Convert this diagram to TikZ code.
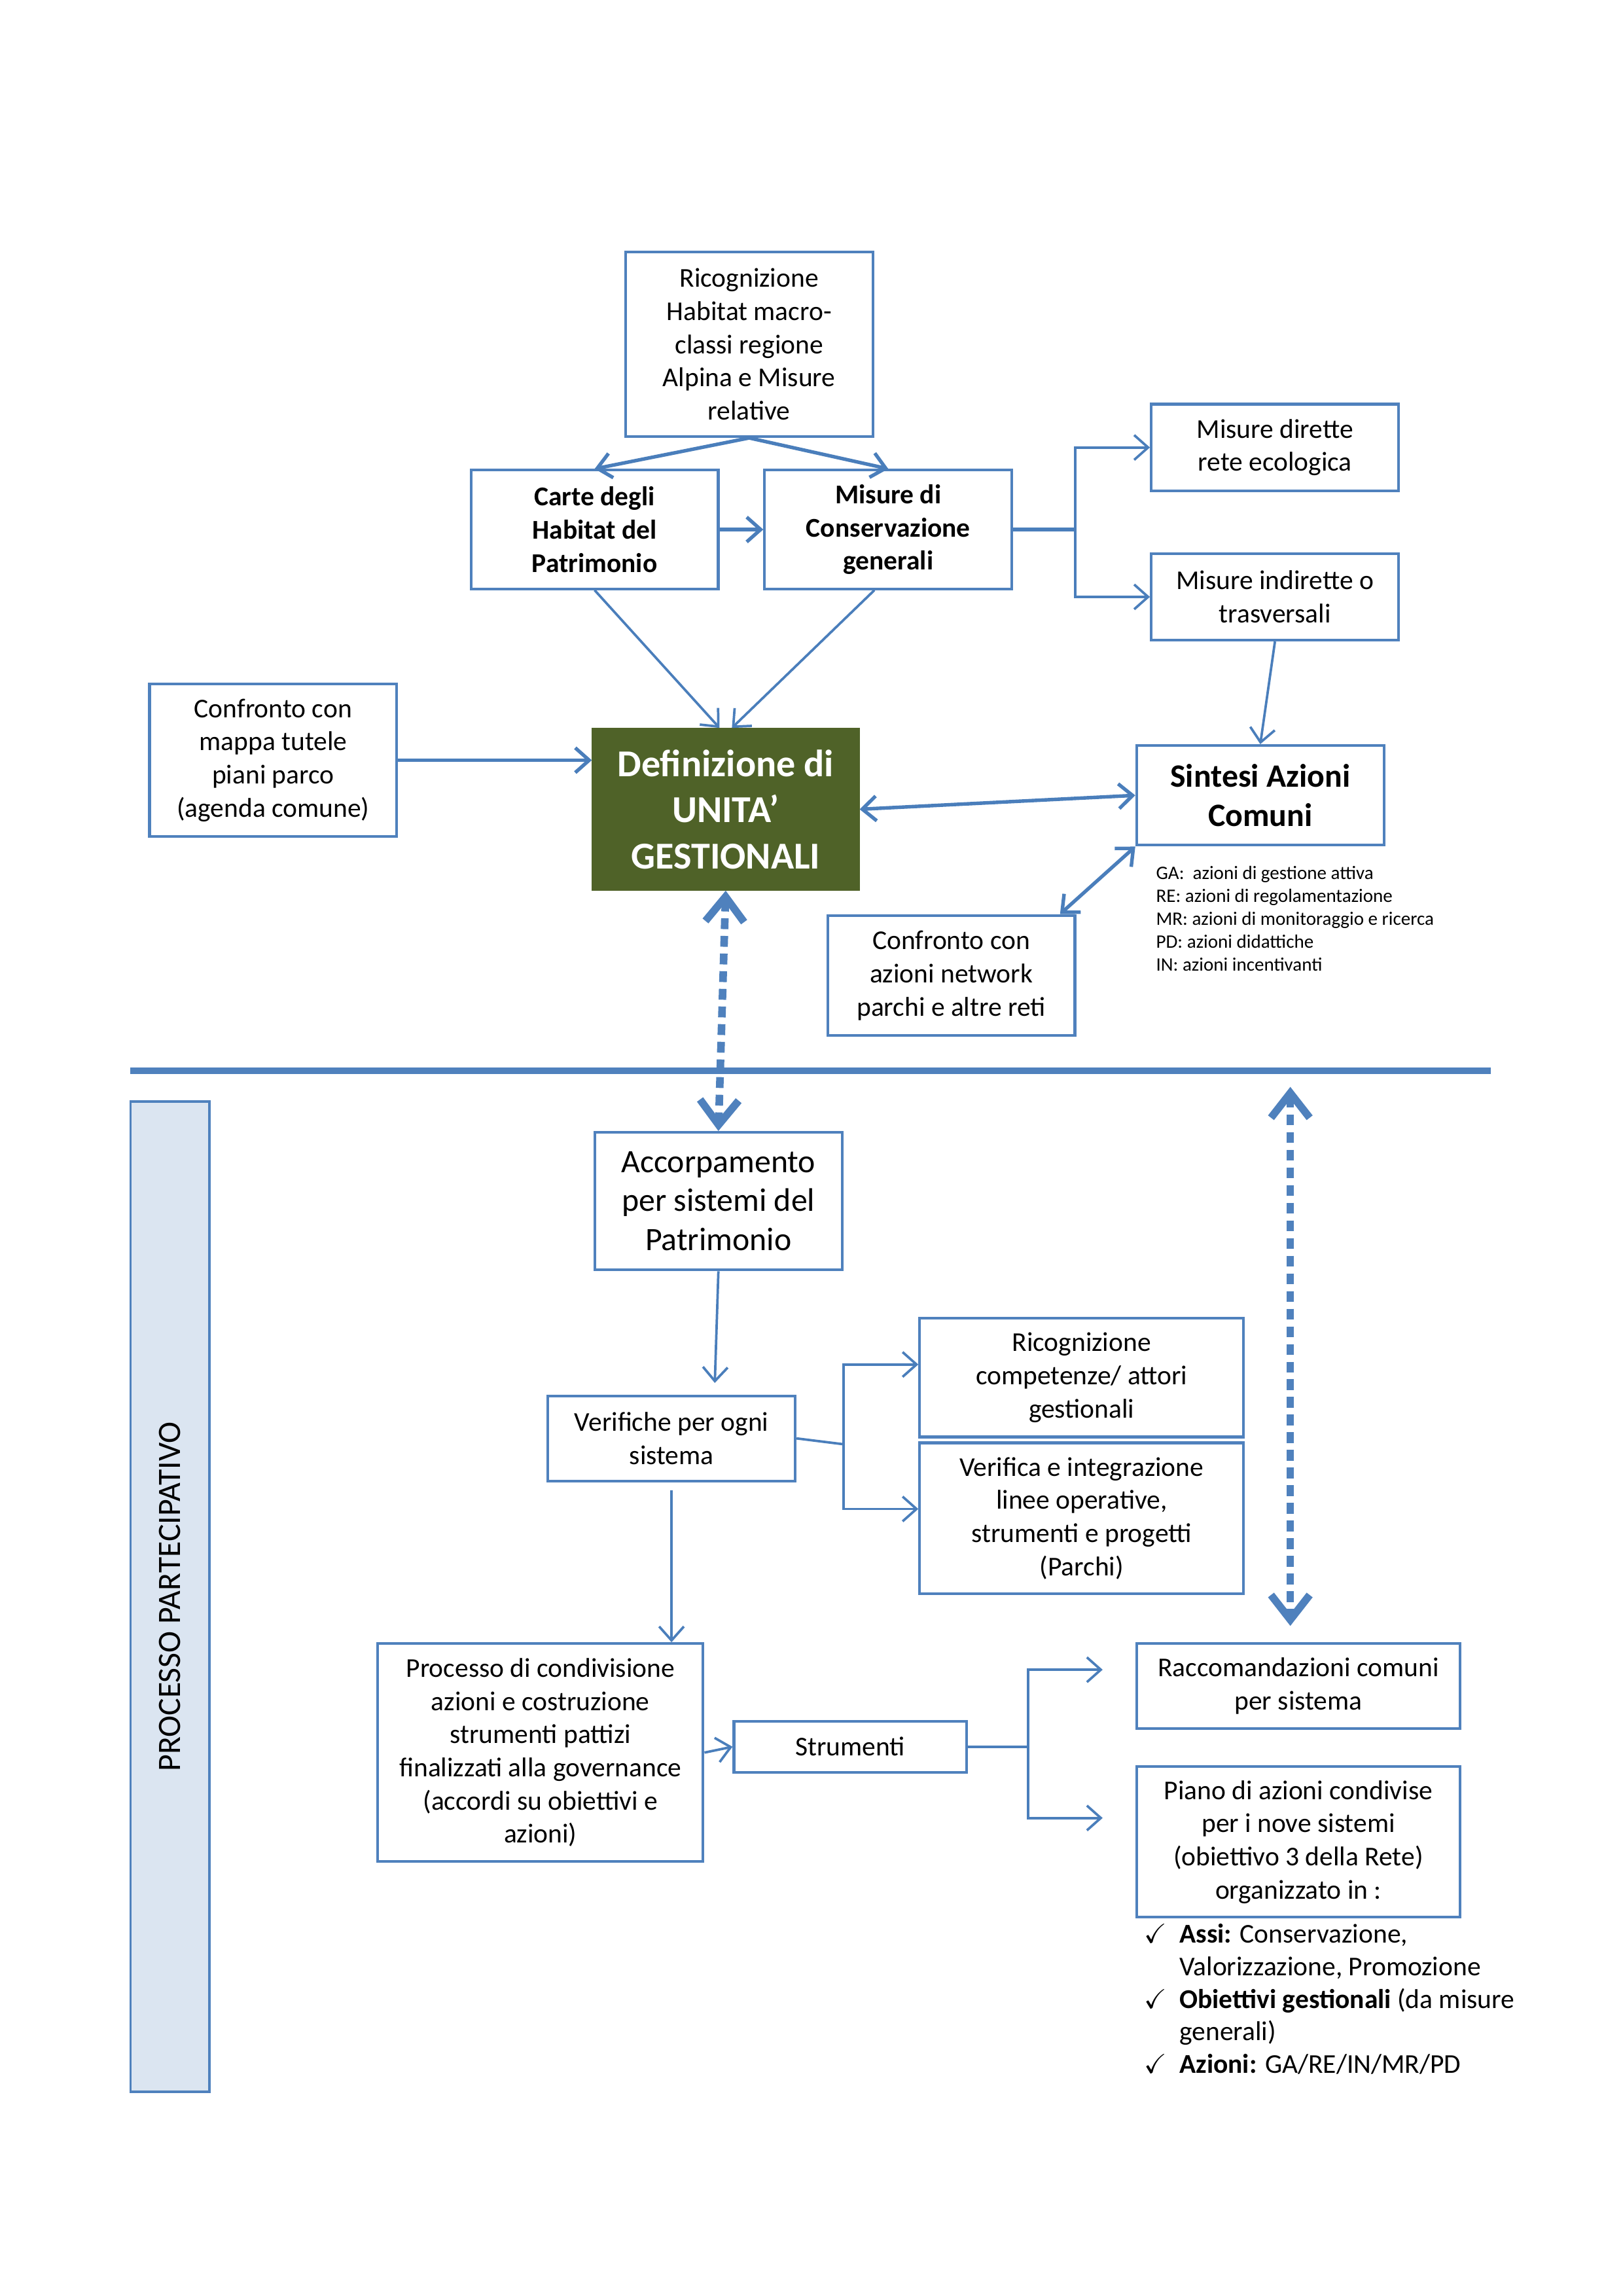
\documentclass[tikz,border=0pt]{standalone}
\usepackage{amsmath,amssymb}
\usepackage{fontspec}
\setmainfont{Carlito}
\usepackage{xcolor}
\usepackage{tikz}
\usetikzlibrary{arrows.meta}

\definecolor{bordoblu}{HTML}{4F81BD}
\definecolor{frecciablu}{HTML}{4A7EBB}
\definecolor{verdeoliva}{HTML}{4F6228}
\definecolor{azzurrino}{HTML}{DBE5F1}

\newcommand{\spunta}{\makebox[0.455cm][l]{$\checkmark$}}
\newcommand{\rientro}{\hspace*{0.455cm}}

\begin{document}
\begin{tikzpicture}[x=0.018953cm, y=-0.018953cm,
    box/.style={rectangle, draw=bordoblu, line width=1pt, fill=white, align=center, minimum width=3.2cm, inner sep=2pt, font=\fontsize{10}{12.2}\selectfont},
    wide/.style={box, minimum width=4.19cm},
    flow/.style={-{Straight Barb[length=0.18cm,width=0.32cm]}, draw=frecciablu, line width=0.9pt},
    flowheavy/.style={flow, line width=1.3pt},
    flowtwo/.style={{Straight Barb[length=0.18cm,width=0.32cm]}-{Straight Barb[length=0.18cm,width=0.32cm]}, draw=frecciablu, line width=1.3pt},
    link/.style={draw=frecciablu, line width=0.9pt},
    dots/.style={{Straight Barb[length=0.32cm,width=0.5cm]}-{Straight Barb[length=0.32cm,width=0.5cm]}, draw=bordoblu, line width=2.8pt, dash pattern=on 4pt off 2.5pt}]

    \useasboundingbox (0,0) rectangle (1108,1567.5);

    % Parte superiore: analisi
    \node[box, minimum height=2.39cm] (ricog) at (511.5,235) {Ricognizione\\Habitat macro-\\classi regione\\Alpina e Misure\\relative};
    \node[box, minimum height=1.535cm, font=\fontsize{10}{12.2}\selectfont\bfseries] (carte) at (406,361.5) {Carte degli\\Habitat del\\Patrimonio};
    \node[box, minimum height=1.535cm, font=\fontsize{10}{12.2}\selectfont\bfseries] (misgen) at (606.5,361.5) {Misure di\\Conservazione\\generali};
    \node[box, minimum height=1.12cm] (misdir) at (870.5,305.5) {Misure dirette\\rete ecologica};
    \node[box, minimum height=1.12cm] (misind) at (870.5,407.5) {Misure indirette o\\trasversali};
    \node[box, minimum height=1.97cm] (confmap) at (186.5,519) {Confronto con\\mappa tutele\\piani parco\\(agenda comune)};
    \node[box, fill=verdeoliva, draw=verdeoliva, text=white, minimum width=3.43cm, minimum height=2.07cm, font=\fontsize{14}{17}\selectfont\bfseries] (unita) at (495.5,552.5) {Definizione di\\UNITA’\\GESTIONALI};
    \node[box, minimum height=1.29cm, font=\fontsize{12}{14.6}\selectfont\bfseries] (sintesi) at (860.5,543) {Sintesi Azioni\\Comuni};
    \node[box, minimum height=1.555cm] (confnet) at (649.5,666) {Confronto con\\azioni network\\parchi e altre reti};
    \node[anchor=north west, inner sep=0pt, align=left, font=\fontsize{7}{8.4}\selectfont] (legenda) at (789,591) {GA:\ \ azioni di gestione attiva\\RE: azioni di regolamentazione\\MR: azioni di monitoraggio e ricerca\\PD: azioni didattiche\\IN: azioni incentivanti};

    % Separatore e fascia laterale
    \draw[draw=bordoblu, line width=2.6pt] (89,731) -- (1018,731);
    \node[draw=bordoblu, line width=0.9pt, fill=azzurrino, rotate=90, minimum width=12.81cm, minimum height=1.02cm, font=\fontsize{12}{14}\selectfont] (processo) at (116,1090) {PROCESSO PARTECIPATIVO};

    % Parte inferiore: processo
    \node[box, minimum height=1.78cm, font=\fontsize{12}{14.3}\selectfont] (accorp) at (490.5,820) {Accorpamento\\per sistemi del\\Patrimonio};
    \node[box, minimum height=1.1cm] (verif) at (458.5,982) {Verifiche per ogni\\sistema};
    \node[wide, minimum height=1.535cm] (ricomp) at (738.5,940.5) {Ricognizione\\competenze/ attori\\gestionali};
    \node[wide, minimum height=1.95cm] (verint) at (738.5,1036.5) {Verifica e integrazione\\linee operative,\\strumenti e progetti\\(Parchi)};
    \node[wide, minimum width=4.21cm, minimum height=2.82cm] (proc) at (369,1196.5) {Processo di condivisione\\azioni e costruzione\\strumenti pattizi\\finalizzati alla governance\\(accordi su obiettivi e\\azioni)};
    \node[box, minimum width=3.01cm, minimum height=0.66cm] (strum) at (580.5,1192.5) {Strumenti};
    \node[wide, minimum height=1.1cm] (racc) at (886.5,1151) {Raccomandazioni comuni\\per sistema};
    \node[wide, minimum height=1.95cm] (piano) at (886.5,1257.5) {Piano di azioni condivise\\per i nove sistemi\\(obiettivo 3 della Rete)\\organizzato in :};
    \node[anchor=north west, inner sep=0pt, align=left, font=\fontsize{10}{12}\selectfont] (lista) at (781,1313) {\spunta\textbf{Assi:} Conservazione,\\\rientro Valorizzazione, Promozione\\\spunta\textbf{Obiettivi gestionali} (da misure\\\rientro generali)\\\spunta\textbf{Azioni:} GA/RE/IN/MR/PD};

    % Punti di snodo
    \coordinate (jm) at (734,361.5);
    \coordinate (jv) at (576,986);
    \coordinate (js) at (702,1192.5);
    \coordinate (dtop) at (881,742);
    \coordinate (dbot) at (881,1110);

    % Collegamenti superiori
    \draw[flowheavy] (ricog.south) -- (carte.north);
    \draw[flowheavy] (ricog.south) -- (misgen.north);
    \draw[flowheavy] (carte.east) -- (misgen.west);
    \draw[link, line width=1.3pt] (misgen.east) -- (jm);
    \draw[flow] (jm) |- (misdir.west);
    \draw[flow] (jm) |- (misind.west);
    \draw[flow] (carte.south) -- ([xshift=-0.08cm]unita.north);
    \draw[flow] ([xshift=-0.18cm]misgen.south) -- ([xshift=0.08cm]unita.north);
    \draw[flowheavy] (confmap.east) -- (unita.west |- confmap.east);
    \draw[flow] (misind.south) -- (sintesi.north);
    \draw[flowtwo] (unita.east) -- (sintesi.west);
    \draw[flowtwo] (sintesi.south west) -- ([xshift=-0.21cm]confnet.north east);

    % Frecce tratteggiate
    \draw[dots] (unita.south) -- (accorp.north);
    \draw[dots] (dtop) -- (dbot);

    % Collegamenti inferiori
    \draw[flow] (accorp.south) -- ([xshift=0.56cm,yshift=0.15cm]verif.north);
    \draw[link] (verif.east) -- (jv);
    \draw[flow] (jv) |- ([yshift=0.17cm]ricomp.west);
    \draw[flow] (jv) |- ([yshift=0.12cm]verint.west);
    \draw[flow] ([yshift=-0.1cm]verif.south) -- (verif.south |- proc.north);
    \draw[flow] (proc.east) -- (strum.west);
    \draw[link] (strum.east) -- (js);
    \draw[flow, shorten >=0.42cm] (js) |- ([yshift=0.21cm]racc.west);
    \draw[flow, shorten >=0.42cm] (js) |- ([yshift=0.31cm]piano.west);

\end{tikzpicture}
\end{document}
